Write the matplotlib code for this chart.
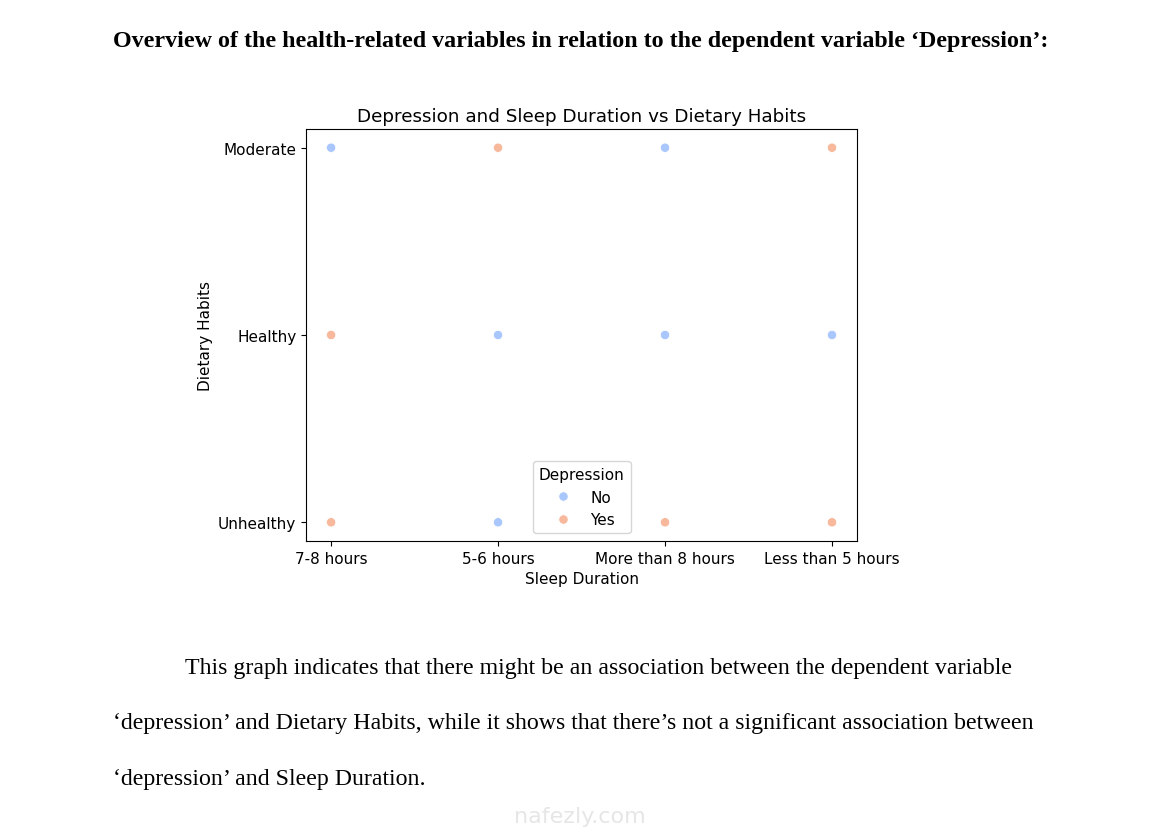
import matplotlib.pyplot as plt
import seaborn as sns
import pandas as pd

sleep = ["7-8 hours", "5-6 hours", "More than 8 hours", "Less than 5 hours"] * 3
diet = ["Moderate"] * 4 + ["Healthy"] * 4 + ["Unhealthy"] * 4
depression = ["No", "Yes", "No", "Yes",
              "Yes", "No", "No", "No",
              "Yes", "No", "Yes", "Yes"]

header = "Overview of the health-related variables in relation to the dependent variable \u2018Depression\u2019:"
para = [
    "This graph indicates that there might be an association between the dependent variable",
    "\u2018depression\u2019 and Dietary Habits, while it shows that there\u2019s not a significant association between",
    "\u2018depression\u2019 and Sleep Duration.",
]

df = pd.DataFrame({"Sleep Duration": sleep, "Dietary Habits": diet, "Depression": depression})

fig = plt.figure(figsize=(11.61, 8.29), dpi=100)
ax = fig.add_axes([0.2636, 0.3462, 0.4746, 0.497])

sns.scatterplot(data=df, x="Sleep Duration", y="Dietary Habits", hue="Depression",
                hue_order=["No", "Yes"], palette="coolwarm", s=45, ax=ax)
ax.set_title("Depression and Sleep Duration vs Dietary Habits", fontsize=13.2)
ax.set_xlabel("Sleep Duration", fontsize=11)
ax.set_ylabel("Dietary Habits", fontsize=11)
ax.tick_params(labelsize=11)
leg = ax.legend(title="Depression", loc="lower center", fontsize=11, title_fontsize=11)

fig.text(113 / 1161, 1 - 42 / 829, header, family="Liberation Serif", weight="bold",
         fontsize=17.3, va="center", ha="left")
fig.text(185 / 1161, 1 - 669 / 829, para[0], family="Liberation Serif", fontsize=17.2, va="center")
fig.text(113 / 1161, 1 - 724 / 829, para[1], family="Liberation Serif", fontsize=17.2, va="center")
fig.text(113 / 1161, 1 - 780 / 829, para[2], family="Liberation Serif", fontsize=17.2, va="center")

# watermark
fig.text(580 / 1161, 1 - 817 / 829, "nafezly.com", fontsize=16, color="#e6e6e6",
         ha="center", va="center")

fig.savefig("out.png", dpi=100)
